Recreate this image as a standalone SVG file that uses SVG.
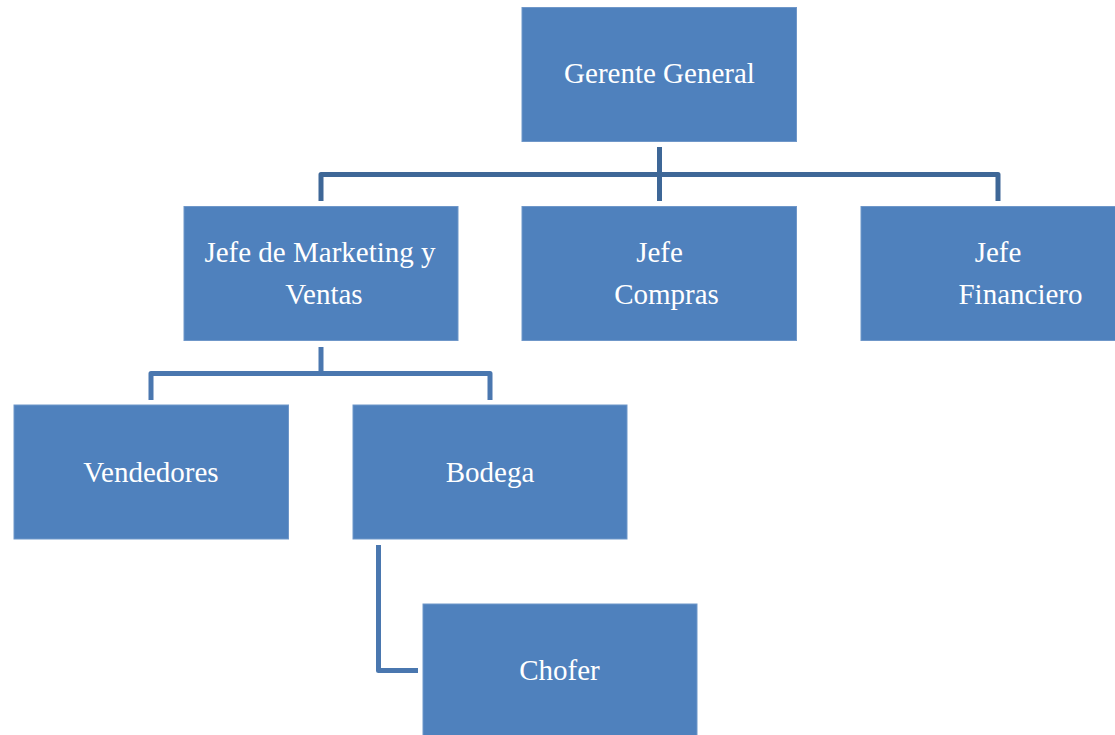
<svg xmlns="http://www.w3.org/2000/svg" width="1115" height="735" viewBox="0 0 1115 735">
<style>
.box{fill:#4F81BD;stroke:#6F97C9;stroke-width:1}
.lbl{font-family:"Liberation Serif","Times New Roman",serif;font-size:29px;fill:#FFFFFF;text-anchor:middle}
.c1{fill:none;stroke:#3E6797;stroke-width:5;stroke-linejoin:round}
.c2{fill:none;stroke:#4A77AF;stroke-width:5;stroke-linejoin:round}
</style>
<rect width="1115" height="735" fill="#FFFFFF"/>
<g id="connectors">
<path class="c1" d="M659.5 147 V201"/>
<path class="c1" d="M321 201 V174.5 H998 V201"/>
<path class="c2" d="M321 347 V373.5"/>
<path class="c2" d="M151 400 V373.5 H490 V400"/>
<path class="c2" d="M378.5 545 V670.5 H418"/>
</g>
<g id="gerente"><rect class="box" x="522" y="7.5" width="274.5" height="134"/><text class="lbl" x="659.5" y="83">Gerente General</text></g>
<g id="marketing"><rect class="box" x="184" y="206.5" width="274" height="134"/><text class="lbl" x="320" y="262">Jefe de Marketing y</text><text class="lbl" x="324" y="304">Ventas</text></g>
<g id="compras"><rect class="box" x="522" y="206.5" width="274.5" height="134"/><text class="lbl" x="659.5" y="262">Jefe</text><text class="lbl" x="666.5" y="304">Compras</text></g>
<g id="financiero"><rect class="box" x="861" y="206.5" width="260" height="134"/><text class="lbl" x="998" y="262">Jefe</text><text class="lbl" x="1020.5" y="304">Financiero</text></g>
<g id="vendedores"><rect class="box" x="14" y="405" width="274.5" height="134"/><text class="lbl" x="151" y="482">Vendedores</text></g>
<g id="bodega"><rect class="box" x="353" y="405" width="274" height="134"/><text class="lbl" x="490" y="482">Bodega</text></g>
<g id="chofer"><rect class="box" x="423" y="604" width="274" height="140"/><text class="lbl" x="559.5" y="680">Chofer</text></g>
</svg>
